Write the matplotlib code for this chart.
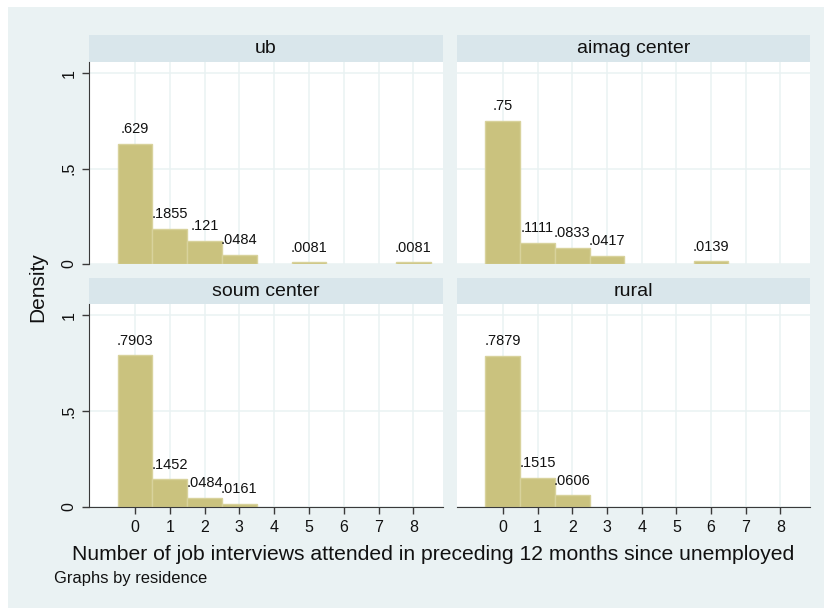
import matplotlib
matplotlib.use("Agg")
import matplotlib.pyplot as plt
from matplotlib.patches import Rectangle
import numpy as np

plt.rcParams['font.family'] = ['Liberation Sans', 'DejaVu Sans']

# Density per number of interviews (bins 0..8) for each residence group
bins = [0, 1, 2, 3, 4, 5, 6, 7, 8]
ub = [0.629, 0.1855, 0.121, 0.0484, 0, 0.0081, 0, 0, 0.0081]
aimag_center = [0.75, 0.1111, 0.0833, 0.0417, 0, 0, 0.0139, 0, 0]
soum_center = [0.7903, 0.1452, 0.0484, 0.0161, 0, 0, 0, 0, 0]
rural = [0.7879, 0.1515, 0.0606, 0, 0, 0, 0, 0, 0]
panel_titles = ["ub", "aimag center", "soum center", "rural"]
y_ticks = [0, 0.5, 1]
y_tick_labels = ["0", ".5", "1"]

W, H = 824, 608
BG = "#EAF2F3"
STRIP = "#D9E6EB"
BAR = "#CAC27E"
BAR_EDGE = "#D8D29C"
AXIS = "#3A3A3A"

fig = plt.figure(figsize=(W / 100, H / 100), dpi=100, facecolor="white")
fig.patches.append(Rectangle((8 / W, 0), 1 - 8 / W, 1 - 7 / H,
                             transform=fig.transFigure, facecolor=BG,
                             edgecolor="none", zorder=-10))


def frac(x0, x1, top, bottom):
    return [x0 / W, 1 - bottom / H, (x1 - x0) / W, (bottom - top) / H]


cols = [(89, 443), (457, 810)]
rows = [(35, 62, 264), (278, 304, 507)]  # strip top, plot top, plot bottom
data = [ub, aimag_center, soum_center, rural]


def fmt(v):
    s = f"{v:.4g}"
    return s[1:] if s.startswith("0") else s


for i, (vals, title) in enumerate(zip(data, panel_titles)):
    r, c = divmod(i, 2)
    x0, x1 = cols[c]
    st, pt, pb = rows[r]

    sax = fig.add_axes(frac(x0, x1, st, pt))
    sax.set_facecolor(STRIP)
    sax.set_xticks([]); sax.set_yticks([])
    for s in sax.spines.values():
        s.set_visible(False)
    sax.text(0.5, 0.5, title, ha="center", va="center", fontsize=14,
             color="#111111", transform=sax.transAxes)

    ax = fig.add_axes(frac(x0, x1, pt, pb))
    ax.set_facecolor("white")
    ax.set_xlim(-1.32, 8.85)
    ax.set_ylim(0, 1.058)
    ax.set_axisbelow(True)
    for xv in bins:
        ax.axvline(xv, color=BG, lw=1.1, zorder=0)
    for yv in y_ticks:
        ax.axhline(yv, color=BG, lw=1.1, zorder=0)

    xs = [b for b, v in zip(bins, vals) if v > 0]
    hs = [v for v in vals if v > 0]
    ax.bar(xs, hs, width=1.0, color=BAR, edgecolor=BAR_EDGE, linewidth=1.0,
           zorder=2)
    for xv, hv in zip(xs, hs):
        ax.annotate(fmt(hv), (xv, hv), xytext=(0, 5.5), textcoords="offset points",
                    ha="center", va="bottom", fontsize=10.5, color="#111111",
                    zorder=3)

    for s in ax.spines.values():
        s.set_visible(False)
    ax.tick_params(colors=AXIS, length=5, width=1.0, direction="out",
                   labelcolor="#111111")

    if c == 0:
        ax.spines["left"].set_visible(True)
        ax.spines["left"].set_color(AXIS)
        ax.set_yticks(y_ticks)
        ax.set_yticklabels(y_tick_labels, rotation=90, va="center",
                           fontsize=11.5)
        ax.tick_params(axis="y", pad=4)
    else:
        ax.set_yticks([])

    if r == 1:
        ax.spines["bottom"].set_visible(True)
        ax.spines["bottom"].set_color(AXIS)
        ax.set_xticks(bins)
        ax.set_xticklabels([str(b) for b in bins], fontsize=11.5)
        ax.tick_params(axis="x", pad=4)
    else:
        ax.set_xticks([])

fig.text(38 / W, 1 - 287 / H, "Density", rotation=90, ha="center",
         va="center", fontsize=15, color="#111111")
fig.text(433 / W, 1 - 554 / H,
         "Number of job interviews attended in preceding 12 months since unemployed",
         ha="center", va="center", fontsize=15.2, color="#111111")
fig.text(54 / W, 1 - 583 / H, "Graphs by residence", ha="left",
         va="baseline", fontsize=11.9, color="#111111")

fig.savefig("out.png", dpi=100, facecolor=fig.get_facecolor())
